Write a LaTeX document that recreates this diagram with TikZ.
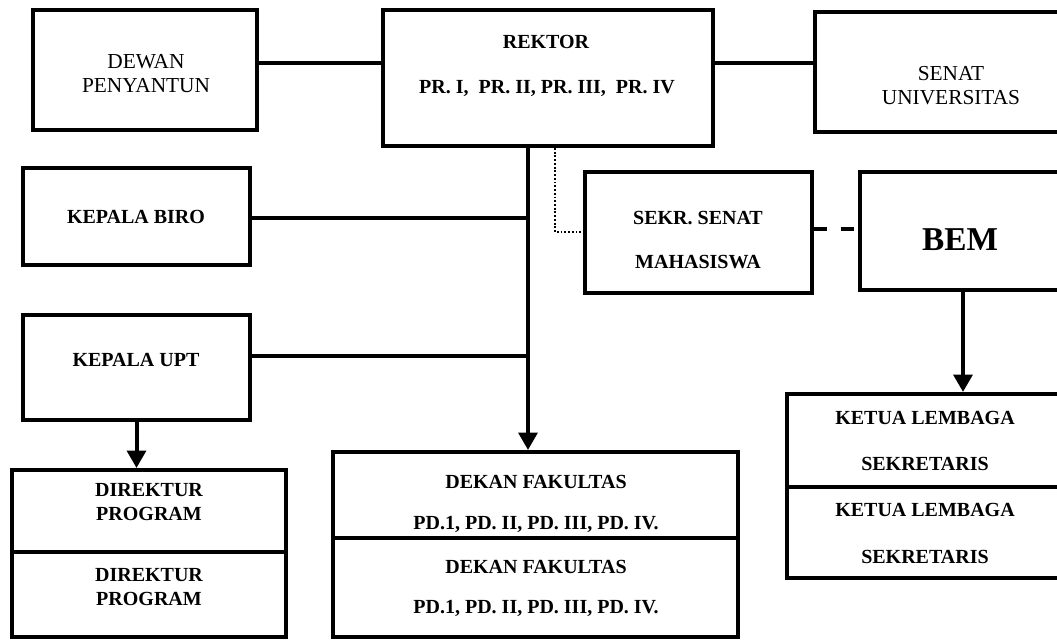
\documentclass[tikz,border=0pt]{standalone}
\usepackage{fontspec}
\setmainfont{Liberation Serif}
\usetikzlibrary{fit,arrows.meta}
\begin{document}
\begin{tikzpicture}[x=0.75pt,y=-0.75pt,
  box/.style={draw, line width=3pt, inner sep=0pt},
  lbl/.style={font=\fontsize{15}{18}\selectfont\bfseries, align=center, inner sep=0pt},
  lblr/.style={font=\fontsize{16}{18}\selectfont, align=center, inner sep=0pt},
  big/.style={font=\fontsize{25}{28}\selectfont\bfseries, inner sep=0pt},
  conn/.style={line width=3pt},
  arr/.style={conn, -{Triangle[width=14pt,length=13pt]}},
  dotline/.style={line width=1.6pt, dash pattern=on 1.4pt off 1.4pt},
  dashline/.style={line width=2.6pt, dash pattern=on 10pt off 10pt}]
\useasboundingbox (0,0) rectangle (1057,641);
\clip (0,0) rectangle (1057,641);

% boxes
\node[box, fit={(33,10) (257,130)}] (dewan) {};
\node[box, fit={(383,10) (713,146)}] (rektor) {};
\node[box, fit={(815,12) (1080,132)}] (senat) {};
\node[box, fit={(23,168) (250,265)}] (biro) {};
\node[box, fit={(23,315) (250,420)}] (upt) {};
\node[box, fit={(585,172) (812,293)}] (sekr) {};
\node[box, fit={(860,172) (1080,290)}] (bem) {};
\node[box, fit={(12,470) (286,552)}] (dir1) {};
\node[box, fit={(12,552) (286,637)}] (dir2) {};
\node[box, fit={(333,452) (738,538)}] (dek1) {};
\node[box, fit={(333,538) (738,637)}] (dek2) {};
\node[box, fit={(787,394) (1080,487)}] (ket1) {};
\node[box, fit={(787,487) (1080,578)}] (ket2) {};

% texts
\node[lblr] (tdewan) at (146,74) {DEWAN\\PENYANTUN};
\node[lbl] (trek) at (546,42) {REKTOR};
\node[lbl] (tpr) at (547,89) {PR. I,\ \ PR. II, PR. III,\ \ PR. IV};
\node[lblr] (tsenat) at (951,86) {SENAT\\UNIVERSITAS};
\node[lbl] (tbiro) at (136,217) {KEPALA BIRO};
\node[lbl] (tupt) at (136,360) {KEPALA UPT};
\node[lbl] (tsekr1) at (698,218) {SEKR. SENAT};
\node[lbl] (tsekr2) at (698,262) {MAHASISWA};
\node[big] (tbem) at (960,240) {BEM};
\node[lbl] (tdir1) at (149,502) {DIREKTUR\\PROGRAM};
\node[lbl] (tdir2) at (149,587) {DIREKTUR\\PROGRAM};
\node[lbl] (tdek1) at (536,482) {DEKAN FAKULTAS};
\node[lbl] (tpd1) at (536,524) {PD.1, PD. II, PD. III, PD. IV.};
\node[lbl] (tdek2) at (536,567) {DEKAN FAKULTAS};
\node[lbl] (tpd2) at (536,608) {PD.1, PD. II, PD. III, PD. IV.};
\node[lbl] (tket1) at (925,418) {KETUA LEMBAGA};
\node[lbl] (tsek1) at (925,464) {SEKRETARIS};
\node[lbl] (tket2) at (925,510) {KETUA LEMBAGA};
\node[lbl] (tsek2) at (925,557) {SEKRETARIS};

% junction points on the trunk
\coordinate (jb) at (528,218);
\coordinate (ju) at (528,356);

% connectors
\draw[conn] (dewan.east |- 0,63) -- (rektor.west |- 0,63);
\draw[conn] (rektor.east |- 0,63) -- (senat.west |- 0,63);
\draw[arr] (rektor.south -| jb) -- (dek1.north -| jb);
\draw[conn] (biro.east |- jb) -- (jb);
\draw[conn] (upt.east |- ju) -- (ju);
\draw[arr] (upt.south) -- (dir1.north -| upt.south);
\draw[dotline] (rektor.south -| 555,0) |- (sekr.west |- 0,232);
\draw[dashline] (sekr.east |- 0,229) -- (bem.west |- 0,229);
\draw[arr] (bem.south -| 963,0) -- (ket1.north -| 963,0);
\end{tikzpicture}
\end{document}
